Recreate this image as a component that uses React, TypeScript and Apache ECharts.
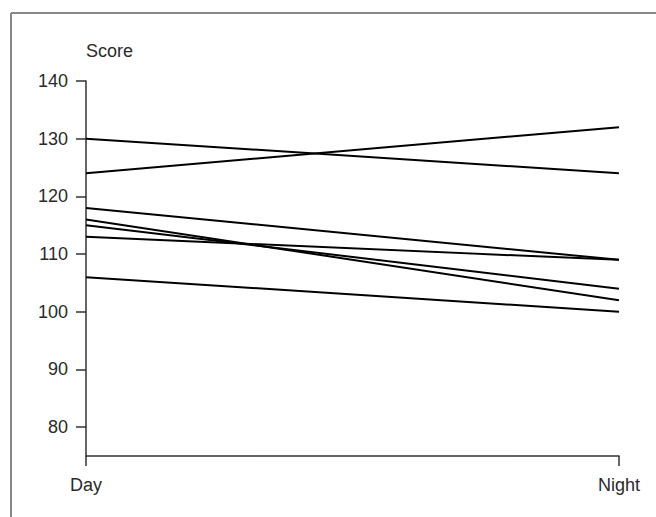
import React, { useEffect, useRef } from "react";
import * as echarts from "echarts";

const categories = ["Day", "Night"];
const yTicks = [80, 90, 100, 110, 120, 130, 140];
const subject1 = [130, 124];
const subject2 = [124, 132];
const subject3 = [118, 109];
const subject4 = [116, 102];
const subject5 = [115, 104];
const subject6 = [113, 109];
const subject7 = [106, 100];
const seriesData = [subject1, subject2, subject3, subject4, subject5, subject6, subject7];

const FONT = "'Liberation Sans', Arial, sans-serif";
const FS = 18;

export default function App() {
  const ref = useRef<HTMLDivElement>(null);
  useEffect(() => {
    if (!ref.current) return;
    const chart = echarts.init(ref.current, null, { renderer: "svg" });
    chart.setOption({
      animation: false,
      backgroundColor: "#ffffff",
      grid: { left: 86, right: 37, top: 81, bottom: 61 },
      xAxis: {
        type: "category",
        data: categories,
        boundaryGap: false,
        axisLine: { lineStyle: { color: "#333", width: 1.5 } },
        axisTick: { show: true, length: 10, alignWithLabel: true, lineStyle: { color: "#333", width: 1.5 } },
        axisLabel: { margin: 20, fontFamily: FONT, fontSize: FS, color: "#2a2a2a" },
        splitLine: { show: false },
      },
      yAxis: {
        type: "value",
        min: 75,
        max: 140,
        name: "Score",
        nameLocation: "end",
        nameGap: 30,
        nameTextStyle: { fontFamily: FONT, fontSize: FS, color: "#2a2a2a", align: "left", verticalAlign: "middle" },
        axisLine: { show: true, lineStyle: { color: "#333", width: 1.5 } },
        axisTick: { show: true, length: 10, customValues: yTicks, lineStyle: { color: "#333", width: 1.5 } },
        axisLabel: { margin: 18, customValues: yTicks, fontFamily: FONT, fontSize: FS, color: "#2a2a2a" },
        splitLine: { show: false },
      },
      graphic: [
        { type: "line", shape: { x1: 11, y1: 13, x2: 11, y2: 517 }, style: { stroke: "#888", lineWidth: 2 } },
        { type: "line", shape: { x1: 11, y1: 13, x2: 656, y2: 13 }, style: { stroke: "#888", lineWidth: 2 } },
      ],
      series: seriesData.map((d, i) => ({
        name: "S" + (i + 1),
        type: "line",
        data: d,
        symbol: "none",
        lineStyle: { color: "#000", width: 2 },
      })),
    });
    return () => chart.dispose();
  }, []);
  return <div ref={ref} style={{ width: 656, height: 517, position: "fixed", left: 0, top: 0 }} />;
}
